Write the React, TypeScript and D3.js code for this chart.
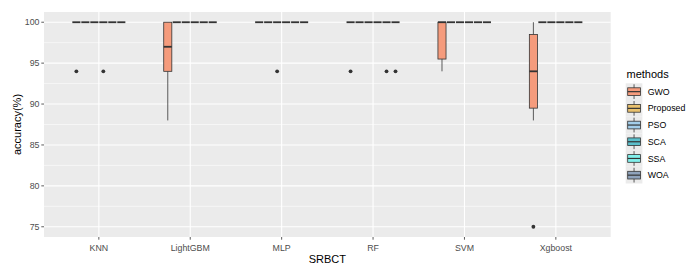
import React from "react";
import * as d3 from "d3";

const categories = ["KNN", "LightGBM", "MLP", "RF", "SVM", "Xgboost"];
const methods = ["GWO", "Proposed", "PSO", "SCA", "SSA", "WOA"];
const methodColors = ["#F59B7C", "#E9C16E", "#A3CEEA", "#5BBFCB", "#82F0EC", "#8FA3BC"];

// five-number summaries per category: [lowerWhisker, q1, median, q3, upperWhisker]
const gwoStats = [
  [100, 100, 100, 100, 100],
  [88, 94, 97, 100, 100],
  [100, 100, 100, 100, 100],
  [100, 100, 100, 100, 100],
  [94, 95.5, 100, 100, 100],
  [88, 89.5, 94, 98.5, 100],
];
const proposedStats = [
  [100, 100, 100, 100, 100], [100, 100, 100, 100, 100], [100, 100, 100, 100, 100],
  [100, 100, 100, 100, 100], [100, 100, 100, 100, 100], [100, 100, 100, 100, 100],
];
const psoStats = [
  [100, 100, 100, 100, 100], [100, 100, 100, 100, 100], [100, 100, 100, 100, 100],
  [100, 100, 100, 100, 100], [100, 100, 100, 100, 100], [100, 100, 100, 100, 100],
];
const scaStats = [
  [100, 100, 100, 100, 100], [100, 100, 100, 100, 100], [100, 100, 100, 100, 100],
  [100, 100, 100, 100, 100], [100, 100, 100, 100, 100], [100, 100, 100, 100, 100],
];
const ssaStats = [
  [100, 100, 100, 100, 100], [100, 100, 100, 100, 100], [100, 100, 100, 100, 100],
  [100, 100, 100, 100, 100], [100, 100, 100, 100, 100], [100, 100, 100, 100, 100],
];
const woaStats = [
  [100, 100, 100, 100, 100], [100, 100, 100, 100, 100], [100, 100, 100, 100, 100],
  [100, 100, 100, 100, 100], [100, 100, 100, 100, 100], [100, 100, 100, 100, 100],
];
const allStats = [gwoStats, proposedStats, psoStats, scaStats, ssaStats, woaStats];

const outlierCategory = ["KNN", "KNN", "MLP", "RF", "RF", "RF", "Xgboost"];
const outlierMethod = ["GWO", "SCA", "PSO", "GWO", "SSA", "WOA", "GWO"];
const outlierValue = [94, 94, 94, 94, 94, 94, 75];

const yTicks = [75, 80, 85, 90, 95, 100];
const yMinor = [77.5, 82.5, 87.5, 92.5, 97.5];

export default function App() {
  const W = 695, H = 273;
  const pL = 44, pR = 610.7, pT = 12, pB = 237;
  const x = d3.scalePoint<string>().domain(categories).range([pL, pR]).padding(0.6);
  const step = x.step();
  const inner = d3.scaleBand<string>().domain(methods).range([-0.295 * step, 0.295 * step]);
  const bw = inner.bandwidth() * 0.9;
  const y = d3.scaleLinear().domain([73.75, 101.25]).range([pB, pT]);
  const font = "'Liberation Sans', Arial, sans-serif";
  const dark = "#333333";

  const boxes: React.ReactNode[] = [];
  categories.forEach((c, ci) => {
    methods.forEach((m, mi) => {
      const s = allStats[mi][ci];
      const cx = (x(c) as number) + (inner(m) as number) + inner.bandwidth() / 2;
      const [lw, q1, med, q3, uw] = s;
      boxes.push(
        <g key={c + m}>
          <line x1={cx} x2={cx} y1={y(uw)} y2={y(q3)} stroke={dark} strokeWidth={0.8} />
          <line x1={cx} x2={cx} y1={y(q1)} y2={y(lw)} stroke={dark} strokeWidth={0.8} />
          <rect x={cx - bw / 2} y={y(q3)} width={bw} height={Math.max(0, y(q1) - y(q3))}
            fill={methodColors[mi]} stroke={dark} strokeWidth={0.8} />
          <line x1={cx - bw / 2} x2={cx + bw / 2} y1={y(med)} y2={y(med)} stroke={dark} strokeWidth={1.8} />
        </g>
      );
    });
  });

  const dots = outlierValue.map((v, i) => {
    const cx = (x(outlierCategory[i]) as number) + (inner(outlierMethod[i]) as number) + inner.bandwidth() / 2;
    return <circle key={"o" + i} cx={cx} cy={y(v)} r={1.9} fill={dark} />;
  });

  const legendX = 625.7, legendY0 = 83.3, keyH = 16.7, keyW = 16.7;

  return (
    <svg width={W} height={H} style={{ position: "absolute", left: 0, top: 0 }} fontFamily={font}>
      <rect x={0} y={0} width={W} height={H} fill="#FFFFFF" />
      <rect x={pL} y={pT} width={pR - pL} height={pB - pT} fill="#EBEBEB" />
      {yMinor.map((t) => (
        <line key={"mn" + t} x1={pL} x2={pR} y1={y(t)} y2={y(t)} stroke="#FFFFFF" strokeWidth={0.55} />
      ))}
      {yTicks.map((t) => (
        <line key={"mj" + t} x1={pL} x2={pR} y1={y(t)} y2={y(t)} stroke="#FFFFFF" strokeWidth={1.1} />
      ))}
      {categories.map((c) => (
        <line key={"vx" + c} x1={x(c)} x2={x(c)} y1={pT} y2={pB} stroke="#FFFFFF" strokeWidth={1.1} />
      ))}
      {boxes}
      {dots}
      {yTicks.map((t) => (
        <g key={"yt" + t}>
          <line x1={pL - 2.7} x2={pL} y1={y(t)} y2={y(t)} stroke={dark} strokeWidth={0.8} />
          <text x={pL - 4.5} y={y(t)} dy="0.35em" textAnchor="end" fontSize={8.8} fill="#4D4D4D">{t}</text>
        </g>
      ))}
      {categories.map((c) => (
        <g key={"xt" + c}>
          <line x1={x(c)} x2={x(c)} y1={pB} y2={pB + 2.7} stroke={dark} strokeWidth={0.8} />
          <text x={x(c)} y={251} textAnchor="middle" fontSize={8.8} fill="#4D4D4D">{c}</text>
        </g>
      ))}
      <text x={(pL + pR) / 2} y={263} textAnchor="middle" fontSize={11} fill="#000000">SRBCT</text>
      <text transform={`translate(20.5, ${(pT + pB) / 2}) rotate(-90)`} textAnchor="middle" fontSize={11} fill="#000000">accuracy(%)</text>
      <text x={626.5} y={77.5} fontSize={11} fill="#000000">methods</text>
      {methods.map((m, i) => {
        const ky = legendY0 + i * keyH;
        const kcx = legendX + keyW / 2;
        return (
          <g key={"lg" + m}>
            <rect x={legendX} y={ky} width={keyW} height={keyH} fill="#EBEBEB" />
            <line x1={kcx} x2={kcx} y1={ky + 1} y2={ky + keyH - 1} stroke={dark} strokeWidth={0.8} />
            <rect x={legendX + 2} y={ky + 4.5} width={keyW - 4} height={keyH - 9} fill={methodColors[i]} stroke={dark} strokeWidth={0.8} />
            <line x1={legendX + 2} x2={legendX + keyW - 2} y1={ky + keyH / 2} y2={ky + keyH / 2} stroke={dark} strokeWidth={1.2} />
            <text x={647.7} y={ky + keyH / 2} dy="0.35em" fontSize={8.8} fill="#000000">{m}</text>
          </g>
        );
      })}
    </svg>
  );
}
